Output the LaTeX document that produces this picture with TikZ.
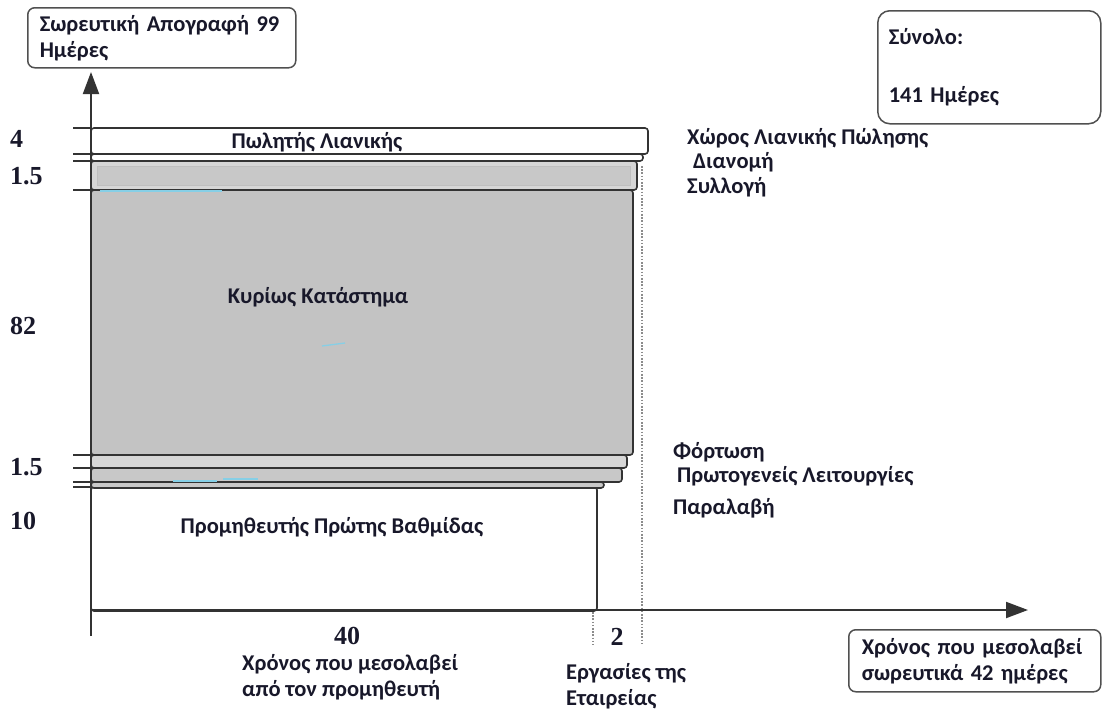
\documentclass[tikz,border=0pt]{standalone}
\usepackage{fontspec}
\setmainfont{Carlito}
\newfontfamily\numfont{Liberation Serif}
\usetikzlibrary{arrows.meta}

\definecolor{txt}{HTML}{18182A}
\definecolor{edge}{HTML}{333333}
\definecolor{boxedge}{HTML}{505050}
\definecolor{mainfill}{HTML}{C3C3C3}
\definecolor{stripA}{HTML}{D6D6D6}
\definecolor{stripB}{HTML}{C8C8C8}
\definecolor{glint}{HTML}{86CFE6}

\begin{document}
\begin{tikzpicture}[x=1pt,y=-1pt,
  lbl/.style={font=\bfseries\fontsize{22.5}{26}\selectfont, text=txt, inner sep=0pt},
  num/.style={font=\numfont\bfseries\fontsize{26}{30}\selectfont, text=txt, inner sep=0pt},
  layer/.style={draw=edge, line width=1.6pt, rounded corners=3pt},
  tick/.style={draw=edge, line width=1.4pt},
  axis/.style={draw=black!80, line width=2pt},
  tip/.style={-{Triangle[width=16pt,length=22pt]}},
  dotline/.style={draw=black!45, line width=1.6pt, dash pattern=on 1.6pt off 1.6pt},
  rbox/.style={draw=boxedge, line width=1.5pt, fill=white, inner ysep=0pt},
  glintline/.style={draw=glint, line width=1.3pt}
]
\path[use as bounding box] (0,0) rectangle (1102,712);

% axes
\coordinate (o) at (91,610);
\coordinate (ybot) at (91,636);
\coordinate (ytip) at (91,72);
\coordinate (xtip) at (1028,610);

% supplier block and lower strips
\path[layer, fill=white] (91,487) rectangle (597,611);
\path[layer, fill=stripB] (91,482) rectangle (604,488);
\path[layer, fill=stripB] (91,468) rectangle (622,482);
\path[layer, fill=stripA] (91,455) rectangle (627,468);

% main store
\path[layer, fill=mainfill] (91,190) rectangle (633,455);

% upper strips
\path[layer, fill=stripA] (91,161) rectangle (637,190);
\path[draw=black!25, line width=0.8pt, fill=stripB] (97,166) rectangle (630,185);
\path[layer, fill=white] (91,154) rectangle (643,161);
\path[layer, fill=white] (91,128) rectangle (648,154);

% boundary lines reaching left of the axis
\foreach \yy in {128,154,161,190,455,468,482,487}
  \draw[tick] (73,\yy) -- (92,\yy);

% light scan glints
\draw[glintline] (100,191) -- (222,191);
\draw[glintline] (173,481) -- (217,481);
\draw[glintline] (223,479) -- (258,479);
\draw[glintline] (322,346) -- (345,343);

% dotted guides
\draw[dotline] (642,166) -- (642,645);
\draw[dotline] (593,612) -- (593,645);

\draw[axis, tip] (ybot) -- (ytip);
\draw[axis, tip] (o) -- (xtip);

% labels inside the blocks
\node[lbl] (retail) at (317,142) {Πωλητής Λιανικής};
\node[lbl] (store) at (318,297) {Κυρίως Κατάστημα};
\node[lbl] (supplier) at (332,527) {Προμηθευτής Πρώτης Βαθμίδας};

% layer labels on the right
\node[lbl, anchor=west] (l1) at (687,138) {Χώρος Λιανικής Πώλησης};
\node[lbl, anchor=west] (l2) at (693,162) {Διανομή};
\node[lbl, anchor=west] (l3) at (687,187) {Συλλογή};
\node[lbl, anchor=west] (l4) at (673,452) {Φόρτωση};
\node[lbl, anchor=west] (l5) at (677,476) {Πρωτογενείς Λειτουργίες};
\node[lbl, anchor=west] (l6) at (673,508) {Παραλαβή};

% values on the vertical axis
\node[num, anchor=west] (v1) at (10,139) {4};
\node[num, anchor=west] (v2) at (10,176) {1.5};
\node[num, anchor=west] (v3) at (10,326) {82};
\node[num, anchor=west] (v4) at (10,467) {1.5};
\node[num, anchor=west] (v5) at (10,521) {10};

% values on the horizontal axis
\node[num] (h1) at (347,636) {40};
\node[num] (h2) at (617,637) {2};
\node[lbl, anchor=north west, align=left] (h1t) at (242,654) {Χρόνος που μεσολαβεί\\από τον προμηθευτή};
\node[lbl, anchor=north west, align=left] (h2t) at (566,663) {Εργασίες της\\Εταιρείας};

% framed captions
\node[rbox, rounded corners=7pt, anchor=north west, minimum width=268pt, minimum height=60pt,
      inner xsep=12pt, text width=244pt, align=left, lbl] (inv) at (27,7)
  {Σωρευτική Απογραφή 99\\Ημέρες};
\node[rbox, rounded corners=12pt, anchor=north west, minimum width=223pt, minimum height=113pt,
      inner xsep=11pt, text width=201pt, align=left, lbl] (tot) at (877,10)
  {Σύνολο:\\[32pt]141 Ημέρες};
\node[rbox, rounded corners=7pt, anchor=north west, minimum width=252pt, minimum height=62pt,
      inner xsep=13pt, text width=226pt, align=left, lbl] (lead) at (848,629)
  {Χρόνος που μεσολαβεί\\σωρευτικά 42 ημέρες};
\end{tikzpicture}
\end{document}
